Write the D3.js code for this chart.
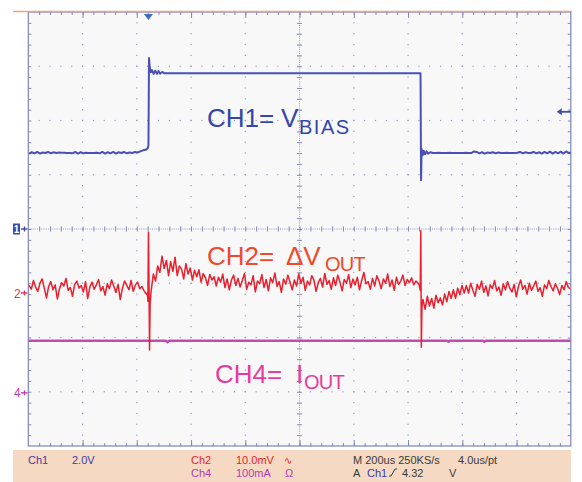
<!DOCTYPE html>
<html><head><meta charset="utf-8">
<script src="https://cdn.jsdelivr.net/npm/d3@7"></script>
<style>body{margin:0;background:#fff}svg{display:block}</style>
</head><body><svg id="c" width="582" height="482"></svg>
<script>
// ---------------- DATA ----------------
const timeDomain = [-443, 1557];          // microseconds, 200 us/div, trigger at 0
const ch1Scale = {perDiv: 2, offsetDiv: 0};      // V/div
const ch2Scale = {perDiv: 10, offsetDiv: -1.18}; // mV/div
const ch4Scale = {perDiv: 100, offsetDiv: -3.02};// mA/div

// CH1 (V): pre-edge samples every 10 us from -440 us
const ch1PreStart = -440, ch1PreStep = 10;
const ch1Pre = [2.78,2.83,2.79,2.84,2.78,2.82,2.80,2.84,2.79,2.83,2.80,2.82,2.81,2.81,2.80,2.80,2.79,2.84,2.78,2.83,2.79,2.81,2.80,2.80,2.80,2.81,2.79,2.84,2.78,2.83,2.79,2.84,2.78,2.83,2.80,2.84,2.79,2.82,2.80,2.84,2.82,2.86,2.90,2.92];
// CH1 edges (t us, V)
const ch1Edges = [[-5,2.95],[-2,3.0],[0,3.1],[2,6.3],[5,5.95],[9,5.78],[13,5.86],[19,5.72],[25,5.84],[31,5.72],[37,5.82],[43,5.73],[51,5.79],[59,5.74],[1003,5.74],[1005,1.8],[1007,2.95],[1011,2.72],[1015,2.88],[1019,2.76],[1025,2.86],[1031,2.78],[1039,2.83],[1049,2.80]];
// CH1 post-edge samples every 10 us from 1060 us
const ch1PostStart = 1060, ch1PostStep = 10;
const ch1Post = [2.80,2.81,2.80,2.80,2.80,2.81,2.80,2.80,2.80,2.80,2.80,2.81,2.80,2.80,
  2.86,2.84,2.79,2.83,2.78,2.82,2.80,2.83,2.79,2.82,
  2.80,2.80,2.81,2.80,2.80,2.80,2.81,
  2.84,2.79,2.83,2.80,2.80,2.84,2.79,2.83,2.78,2.84,2.79,2.85,2.78,2.84,2.79,2.85,2.78,2.86,2.80,2.82];

// CH2 (mV): sample step 8 us
const ch2Step = 8;
const ch2PreStart = -440;
const ch2Pre = [1.4,0.7,2.3,1.1,0.3,1.8,2.6,0.9,-0.9,1.2,
  2.1,0.6,1.5,-1.1,0.8,1.9,1.3,2.7,0.5,1.0,
  -0.6,1.6,2.2,0.9,1.4,0.2,2.1,-1.0,1.1,2.0,
  0.7,1.5,2.5,0.4,1.2,-0.4,1.7,0.8,2.4,1.3,
  0.1,1.6,-1.2,0.9,2.2,1.4,0.6,2.3,0.3,1.5,
  2.0,0.8,1.2,0.4,-0.2];
const ch2RiseSpike = [[-4,0.0],[-2,-1.5],[0,11.2],[2,2.0],[4,-10.5],[6,-2.0]];
const ch2HighStart = 10;
const ch2High = [0.5,3.5,2.2,5.0,3.8,6.8,4.5,6.0,3.2,5.8,
  4.0,6.6,3.2,5.0,4.4,2.6,5.4,3.5,4.6,2.4,
  4.2,3.0,4.3,2.0,3.6,2.8,1.4,3.4,2.4,3.0,
  1.3,2.9,2.0,3.5,1.0,2.6,0.6,2.4,3.3,1.4,
  2.7,1.1,2.3,3.6,0.7,2.0,1.5,3.2,0.2,2.2,
  1.7,3.4,1.0,2.5,0.4,2.8,1.9,3.7,1.2,2.1,
  0.1,2.6,1.6,3.3,2.0,0.6,2.4,1.3,3.5,1.8,
  2.9,0.5,2.2,1.5,3.2,2.4,0.3,1.9,2.7,1.1,
  3.6,1.6,2.3,0.7,2.8,1.4,3.3,2.0,0.4,2.5,
  1.8,3.4,1.0,2.6,1.5,2.9,0.6,2.3,3.8,1.7,
  2.1,0.7,2.7,1.3,3.2,2.2,0.8,2.6,1.8,3.5,
  1.2,2.4,0.5,2.9,1.6,2.2,3.3,1.4,2.5,1.9,
  2.8,1.5,2.2,1.8];
const ch2FallSpike = [[998,1.5],[1002,0.5],[1004,11.5],[1006,-10.0],[1008,-3.0],[1010,-1.5]];
const ch2PostStart = 1012;
const ch2Post = [-1.2,-3.0,-0.6,-2.4,-1.0,-2.8,-0.4,-1.8,-0.9,-2.2,
  -0.2,-1.6,0.3,-1.0,0.6,-1.0,0.9,-0.3,1.4,0.0,
  1.4,0.0,1.8,0.5,-0.6,1.6,0.7,2.2,0.1,1.3,
  -0.5,1.5,0.8,2.3,0.4,1.1,-0.4,1.7,0.6,2.1,
  0.9,0.2,1.6,-0.7,1.2,2.4,0.7,1.4,-0.2,1.8,
  0.5,1.3,2.2,0.3,1.0,-0.6,1.5,0.8,2.3,1.2,
  0.4,1.7,0.9,-0.3,1.4,0.6,2.1,1.0,0.8];

// CH4 (mA)
const ch4Points = [[-443,96],[64,96],[70,93.5],[76,96],[1100,96],[1106,94],[1112,96],[1232,96],[1238,94],[1244,96],[1557,96]];

// Status bar texts
const statusRow1 = [["Ch1",28,"ch1"],["2.0V",72,"ch1"],["Ch2",191,"ch2"],["10.0mV",236,"ch2"],["M 200us 250KS/s",353,"gen"],["4.0us/pt",458,"gen"]];
const statusRow2 = [["Ch4",191,"ch4"],["100mA",236,"ch4"],["Ω",285,"ch4"],["A",353,"gen"],["Ch1",367,"ch1"],["4.32",402,"gen"],["V",449,"gen"]];

// ---------------- DRAW ----------------
const W=582,H=482;
const L=28.3, R=570.8, T=12, B=446;
const svg=d3.select("#c");
const FONT='"Liberation Sans", Arial, sans-serif';

const x=d3.scaleLinear().domain(timeDomain).range([L,R]);
function chanY(s){ return d3.scaleLinear().domain([(-4 - s.offsetDiv)*s.perDiv,(4 - s.offsetDiv)*s.perDiv]).range([B,T]); }
const y1=chanY(ch1Scale), y2=chanY(ch2Scale), y4=chanY(ch4Scale);
const divX=d3.scaleLinear().domain([0,50]).range([L,R]);
const divY=d3.scaleLinear().domain([0,40]).range([T,B]);

// background
svg.append("rect").attr("width",W).attr("height",H).attr("fill","#ffffff");
svg.append("rect").attr("x",L).attr("y",T).attr("width",R-L).attr("height",B-T).attr("fill","#f8f8f8");

// grid dots
const gdot="#959bc0";
const g=svg.append("g");
for(let k=1;k<10;k++){ if(k===5) continue;
  for(let j=1;j<40;j++){ g.append("rect").attr("x",divX(k*5)-0.6).attr("y",divY(j)-0.6).attr("width",1.2).attr("height",1.2).attr("fill",gdot); } }
for(let k=1;k<8;k++){ if(k===4) continue;
  for(let j=1;j<50;j++){ g.append("rect").attr("x",divX(j)-0.6).attr("y",divY(k*5)-0.6).attr("width",1.2).attr("height",1.2).attr("fill",gdot); } }
// center lines (dense dotted)
g.append("line").attr("x1",L).attr("x2",R).attr("y1",divY(20)).attr("y2",divY(20)).attr("stroke",gdot).attr("stroke-width",1).attr("stroke-dasharray","1 1.17");
g.append("line").attr("y1",T).attr("y2",B).attr("x1",divX(25)).attr("x2",divX(25)).attr("stroke",gdot).attr("stroke-width",1).attr("stroke-dasharray","1 1.17");

// axes ticks using d3 axes
const tickVals50=d3.range(1,50), tickVals40=d3.range(1,40);
function styleAxis(sel){ sel.select(".domain").remove(); sel.selectAll("line").attr("stroke","#8088b8").attr("stroke-width",1); sel.selectAll("text").remove(); }
svg.append("g").attr("transform",`translate(0,${B})`).call(d3.axisTop(divX).tickValues(tickVals50).tickSize(3).tickFormat("")).call(styleAxis);
svg.append("g").attr("transform",`translate(0,${T})`).call(d3.axisBottom(divX).tickValues(tickVals50).tickSize(3).tickFormat("")).call(styleAxis);
svg.append("g").attr("transform",`translate(${L},0)`).call(d3.axisRight(divY).tickValues(tickVals40).tickSize(3).tickFormat("")).call(styleAxis);
svg.append("g").attr("transform",`translate(${R},0)`).call(d3.axisLeft(divY).tickValues(tickVals40).tickSize(3).tickFormat("")).call(styleAxis);
// center ticks
svg.append("g").attr("transform",`translate(0,${divY(20)+2.5})`).call(d3.axisTop(divX).tickValues(tickVals50).tickSize(5).tickFormat("")).call(styleAxis);
svg.append("g").attr("transform",`translate(${divX(25)-2.5},0)`).call(d3.axisRight(divY).tickValues(tickVals40).tickSize(5).tickFormat("")).call(styleAxis);
// major ticks on bottom/top edges
const maj=[5,10,15,20,25,30,35,40,45];
svg.append("g").attr("transform",`translate(0,${B})`).call(d3.axisTop(divX).tickValues(maj).tickSize(6).tickFormat("")).call(styleAxis);
svg.append("g").attr("transform",`translate(0,${T})`).call(d3.axisBottom(divX).tickValues(maj).tickSize(6).tickFormat("")).call(styleAxis);

// border
svg.append("rect").attr("x",L).attr("y",T).attr("width",R-L).attr("height",B-T).attr("fill","none").attr("stroke","#7c84b8").attr("stroke-width",1.2);
svg.append("line").attr("x1",13).attr("x2",572).attr("y1",T-0.5).attr("y2",T-0.5).attr("stroke","#eda57c").attr("stroke-width",1.6);

// traces
svg.append("clipPath").attr("id","pc").append("rect").attr("x",L).attr("y",T).attr("width",R-L).attr("height",B-T);
const tr=svg.append("g").attr("clip-path","url(#pc)");
const ch1Data=[...ch1Pre.map((v,i)=>[ch1PreStart+i*ch1PreStep,v]),...ch1Edges,...ch1Post.map((v,i)=>[ch1PostStart+i*ch1PostStep,v])];
const ch2Data=[...ch2Pre.map((v,i)=>[ch2PreStart+i*ch2Step,v]),...ch2RiseSpike,...ch2High.map((v,i)=>[ch2HighStart+i*ch2Step,v]),...ch2FallSpike,...ch2Post.map((v,i)=>[ch2PostStart+i*ch2Step,v])];
tr.append("path").datum(ch4Points).attr("d",d3.line().x(d=>x(d[0])).y(d=>y4(d[1]))).attr("fill","none").attr("stroke","#c24bb2").attr("stroke-width",2.4);
tr.append("path").datum(ch2Data).attr("d",d3.line().x(d=>x(d[0])).y(d=>y2(d[1]))).attr("fill","none").attr("stroke","#ea1f2e").attr("stroke-width",1.5).attr("stroke-linejoin","round");
tr.append("path").datum(ch1Data).attr("d",d3.line().x(d=>x(d[0])).y(d=>y1(d[1]))).attr("fill","none").attr("stroke","#4a50b6").attr("stroke-width",2).attr("stroke-linejoin","round");

// trigger position marker
const tx=x(0);
svg.append("path").attr("d",`M${tx-4.5},${T+2}L${tx+4.5},${T+2}L${tx},${T+8}Z`).attr("fill","#3f6ec6");
// trigger level arrow (4.32 V)
const ty=y1(4.32);
svg.append("path").attr("d",`M${R-14},${ty}L${R-9},${ty-3.5}L${R-9},${ty+3.5}Z`).attr("fill","#3e4fb0");
svg.append("line").attr("x1",R-10).attr("x2",R).attr("y1",ty).attr("y2",ty).attr("stroke","#3e4fb0").attr("stroke-width",1.8);

// channel ground markers
function marker(yv,label,color,boxed){
  if(boxed){
    svg.append("rect").attr("x",13).attr("y",yv-5.5).attr("width",7).attr("height",11).attr("fill","#3a48a8");
    svg.append("text").attr("x",16.5).attr("y",yv+4).attr("text-anchor","middle").attr("font-family",FONT).attr("font-size",10).attr("font-weight","bold").attr("fill","#fff").text(label);
  } else {
    svg.append("text").attr("x",14).attr("y",yv+4.5).attr("font-family",FONT).attr("font-size",12).attr("fill",color).text(label);
  }
  svg.append("line").attr("x1",21).attr("x2",27.5).attr("y1",yv).attr("y2",yv).attr("stroke",color).attr("stroke-width",1.4);
  svg.append("line").attr("x1",24.5).attr("x2",24.5).attr("y1",yv-2.5).attr("y2",yv+2.5).attr("stroke",color).attr("stroke-width",1.4);
}
marker(y1(0),"1","#3a48a8",true);
marker(y2(0),"2","#e6305c",false);
marker(y4(0),"4","#c03cb4",false);

// channel labels
function chLabel(parts,color){
  const t=svg.append("text").attr("font-family",FONT).attr("fill",color);
  parts.forEach(p=>{ const s=t.append("tspan").attr("x",p.x).attr("y",p.y).attr("font-size",p.size).text(p.text); if(p.ls) s.attr("letter-spacing",p.ls); });
}
chLabel([{text:"CH1=",x:207,y:127,size:26},{text:"V",x:281,y:127,size:26},{text:"BIAS",x:299,y:134,size:20,ls:1.5}],"#3347a8");
chLabel([{text:"CH2=",x:207,y:265,size:26},{text:"ΔV",x:286,y:265,size:26},{text:"OUT",x:325,y:271,size:20,ls:-0.8}],"#f04a2a");
chLabel([{text:"CH4=",x:215,y:383,size:26},{text:"I",x:296,y:383,size:26},{text:"OUT",x:304,y:389,size:20,ls:-0.8}],"#e63c9e");

// status bar
svg.append("rect").attr("x",13).attr("y",450).attr("width",558).attr("height",32).attr("fill","#f6d9c2");
const stColor={ch1:"#3c3ca2",ch2:"#e3262c",ch4:"#b13fb2",gen:"#3a3a3a"};
function stRow(rows,yb){ rows.forEach(r=>svg.append("text").attr("x",r[1]).attr("y",yb).attr("font-family",FONT).attr("font-size",11).attr("fill",stColor[r[2]]).text(r[0])); }
stRow(statusRow1,464); stRow(statusRow2,477);
svg.append("text").attr("x",284).attr("y",464).attr("font-family","DejaVu Sans").attr("font-size",10).attr("fill","#e3262c").text("∿");
svg.append("path").attr("d","M389,476 L391,476 L395,469 L397,469").attr("fill","none").attr("stroke","#3a3a3a").attr("stroke-width",1);
</script></body></html>
